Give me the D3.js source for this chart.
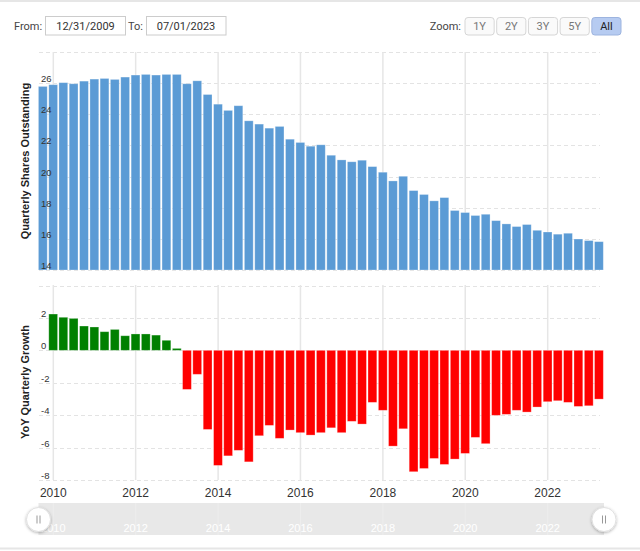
<meta charset="utf-8">
<script src="https://cdn.jsdelivr.net/npm/d3@7"></script>

<style>
  body { margin: 0; background-color: #ffffff; }
  .ui { font-family: Roboto, sans-serif; font-size: 11px; }
  .tick-lbl { font-family: "Liberation Sans", Arial, sans-serif; }
</style>

<div id="chart"></div>

<script>
// quarter end dates
var quarters = ["2009-09-30","2009-12-31","2010-03-31","2010-06-30","2010-09-30","2010-12-31",
  "2011-03-31","2011-06-30","2011-09-30","2011-12-31","2012-03-31","2012-06-30","2012-09-30","2012-12-31",
  "2013-03-31","2013-06-30","2013-09-30","2013-12-31","2014-03-31","2014-06-30","2014-09-30","2014-12-31",
  "2015-03-31","2015-06-30","2015-09-30","2015-12-31","2016-03-31","2016-06-30","2016-09-30","2016-12-31",
  "2017-03-31","2017-06-30","2017-09-30","2017-12-31","2018-03-31","2018-06-30","2018-09-30","2018-12-31",
  "2019-03-31","2019-06-30","2019-09-30","2019-12-31","2020-03-31","2020-06-30","2020-09-30","2020-12-31",
  "2021-03-31","2021-06-30","2021-09-30","2021-12-31","2022-03-31","2022-06-30","2022-09-30","2022-12-31",
  "2023-03-31"];

var shares = [25.79, 25.90, 26.03, 25.96, 26.13, 26.26, 26.30, 26.24, 26.39, 26.52,
  26.56, 26.52, 26.56, 26.56, 25.96, 26.15, 25.27, 24.65, 24.25, 24.55,
  23.58, 23.37, 23.11, 23.22, 22.40, 22.19, 21.95, 22.04, 21.37, 21.07,
  20.95, 21.05, 20.64, 20.28, 19.72, 20.02, 19.10, 18.85, 18.44, 18.65,
  17.82, 17.69, 17.50, 17.58, 17.17, 16.96, 16.79, 16.92, 16.55, 16.44,
  16.30, 16.36, 15.99, 15.89, 15.82];

// yoy growth starts with the second quarter
var growth = [2.24, 2.04, 1.97, 1.50, 1.44, 1.15, 1.29, 0.90, 1.01, 1.01, 0.94, 0.62, 0.12,
  -2.41, -1.48, -4.88, -7.10, -6.51, -6.17, -6.88, -5.27, -4.63, -5.43,
  -4.92, -5.08, -5.23, -5.08, -4.78, -5.08, -4.38, -4.55, -3.21, -3.70,
  -5.91, -4.84, -7.49, -7.29, -6.67, -7.04, -6.71, -6.36, -5.37, -5.76,
  -4.01, -3.95, -3.70, -3.81, -3.50, -3.17, -3.11, -3.21, -3.46, -3.42, -3.01];

var yearTicks = [2010, 2012, 2014, 2016, 2018, 2020, 2022];
var shareTicks = [14, 16, 18, 20, 22, 24, 26, 28];
var growthTicks = [-8, -6, -4, -2, 0, 2, 4];
var zoomButtons = ["1Y", "2Y", "3Y", "5Y", "All"];

var W = 640, H = 551;
var plotLeft = 39, plotRight = 600;

var svg = d3.select("#chart").append("svg")
    .attr("width", W)
    .attr("height", H);

var defs = svg.append("defs");
var f = defs.append("filter").attr("id", "shadow").attr("x", "-50%").attr("y", "-50%")
    .attr("width", "200%").attr("height", "200%");
f.append("feDropShadow").attr("dx", 0).attr("dy", 1).attr("stdDeviation", 1.5)
    .attr("flood-color", "#000").attr("flood-opacity", 0.3);

// frame lines
svg.append("rect").attr("x", 0).attr("y", 0).attr("width", W).attr("height", 2).attr("fill", "#e6e6e6");
svg.append("rect").attr("x", 0).attr("y", 547.5).attr("width", W).attr("height", 2).attr("fill", "#e6e6e6");

var parse = d3.utcParse("%Y-%m-%d");
var dates = quarters.map(parse);

var x = d3.scaleUtc()
    .domain([Date.UTC(2010, 0, 1), Date.UTC(2022, 0, 1)])
    .range([53.3, 547.7]);

var yTop = d3.scaleLinear().domain([14, 28]).range([270, 52]);
var yBot = d3.scaleLinear().domain([-8, 4]).range([480, 285.5]);

var barW = 8.8;

// --- grids ---
function hgrid(scale, ticks) {
  svg.append("g").selectAll("line")
    .data(ticks)
    .enter().append("line")
      .attr("x1", plotLeft).attr("x2", plotRight)
      .attr("y1", d => Math.round(scale(d)) + 0.5)
      .attr("y2", d => Math.round(scale(d)) + 0.5)
      .attr("stroke", "#e3e3e3")
      .attr("stroke-dasharray", "4,3");
}
hgrid(yTop, shareTicks);
hgrid(yBot, growthTicks);

function vgrid(y0, y1) {
  svg.append("g").selectAll("line")
    .data(yearTicks)
    .enter().append("line")
      .attr("x1", d => x(Date.UTC(d, 0, 1))).attr("x2", d => x(Date.UTC(d, 0, 1)))
      .attr("y1", y0).attr("y2", y1)
      .attr("stroke", "#e6e6e6")
      .attr("stroke-width", 1.5);
}
vgrid(52, 270);
vgrid(285, 480);

// --- bars ---
svg.append("g").selectAll("rect")
  .data(shares)
  .enter().append("rect")
    .attr("x", (d, i) => x(dates[i]) - barW / 2)
    .attr("y", d => yTop(d))
    .attr("width", barW)
    .attr("height", d => yTop(14) - yTop(d))
    .attr("fill", "#5b9bd5")
    .attr("stroke", "#ffffff")
    .attr("stroke-opacity", 0.35)
    .attr("stroke-width", 0.8);

svg.append("g").selectAll("rect")
  .data(growth)
  .enter().append("rect")
    .attr("x", (d, i) => x(dates[i + 1]) - barW / 2)
    .attr("y", d => yBot(Math.max(0, d)))
    .attr("width", barW)
    .attr("height", d => Math.abs(yBot(d) - yBot(0)))
    .attr("fill", d => d >= 0 ? "#008000" : "#ff0000")
    .attr("stroke", "#ffffff")
    .attr("stroke-opacity", 0.35)
    .attr("stroke-width", 0.8);

// --- y tick labels (inside plot, left) ---
function ylabels(scale, ticks) {
  svg.append("g").selectAll("text")
    .data(ticks)
    .enter().append("text")
      .attr("class", "tick-lbl")
      .attr("x", 41)
      .attr("y", d => scale(d) - 1)
      .attr("font-size", "9.5px")
      .attr("fill", "#333333")
      .text(d => d);
}
ylabels(yTop, shareTicks.slice(0, -1));
ylabels(yBot, growthTicks.slice(0, -1));

// axis titles
svg.append("text")
    .attr("transform", "translate(29.3,161) rotate(-90)")
    .attr("text-anchor", "middle")
    .attr("font-family", "Liberation Sans, Arial, sans-serif")
    .attr("font-weight", "bold")
    .attr("font-size", "11px")
    .attr("fill", "#222")
    .text("Quarterly Shares Outstanding");

svg.append("text")
    .attr("transform", "translate(29.3,382) rotate(-90)")
    .attr("text-anchor", "middle")
    .attr("font-family", "Liberation Sans, Arial, sans-serif")
    .attr("font-weight", "bold")
    .attr("font-size", "11px")
    .attr("fill", "#222")
    .text("YoY Quarterly Growth");

// x axis labels
svg.append("g").selectAll("text")
  .data(yearTicks)
  .enter().append("text")
    .attr("class", "tick-lbl")
    .attr("x", d => x(Date.UTC(d, 0, 1)))
    .attr("y", 497)
    .attr("text-anchor", "middle")
    .attr("font-size", "12px")
    .attr("fill", "#333333")
    .text(d => d);

// --- navigator ---
var nav = svg.append("g");
nav.append("rect")
    .attr("x", 38.5).attr("y", 503)
    .attr("width", 604 - 38.5).attr("height", 32)
    .attr("fill", "#e8e8e8");
nav.selectAll("line")
  .data(yearTicks)
  .enter().append("line")
    .attr("x1", d => x(Date.UTC(d, 0, 1))).attr("x2", d => x(Date.UTC(d, 0, 1)))
    .attr("y1", 503).attr("y2", 535)
    .attr("stroke", "#ededed");
nav.selectAll("text")
  .data(yearTicks)
  .enter().append("text")
    .attr("class", "tick-lbl")
    .attr("x", d => x(Date.UTC(d, 0, 1)))
    .attr("y", 532)
    .attr("text-anchor", "middle")
    .attr("font-size", "11px")
    .attr("fill", "#ffffff")
    .text(d => d);

[38.5, 604].forEach(function(cx) {
  var h = nav.append("g").attr("transform", "translate(" + cx + ",519.5)");
  h.append("circle").attr("r", 12).attr("fill", "#fff").attr("stroke", "#e0e0e0")
    .attr("filter", "url(#shadow)");
  h.append("line").attr("x1", -1.5).attr("x2", -1.5).attr("y1", -4).attr("y2", 4).attr("stroke", "#999");
  h.append("line").attr("x1", 1.5).attr("x2", 1.5).attr("y1", -4).attr("y2", 4).attr("stroke", "#999");
});

// --- range selector ---
var ui = svg.append("g").attr("class", "ui");
ui.append("text").attr("x", 14).attr("y", 29.5).attr("fill", "#444").text("From:");
ui.append("rect").attr("x", 45.5).attr("y", 16.5).attr("width", 80).attr("height", 18.5)
    .attr("fill", "#fff").attr("stroke", "#cccccc");
ui.append("text").attr("x", 85.5).attr("y", 29.5).attr("text-anchor", "middle").attr("fill", "#333").text("12/31/2009");
ui.append("text").attr("x", 128).attr("y", 29.5).attr("fill", "#444").text("To:");
ui.append("rect").attr("x", 146.5).attr("y", 16.5).attr("width", 79.5).attr("height", 18.5)
    .attr("fill", "#fff").attr("stroke", "#cccccc");
ui.append("text").attr("x", 186).attr("y", 29.5).attr("text-anchor", "middle").attr("fill", "#333").text("07/01/2023");

ui.append("text").attr("x", 461).attr("y", 29.5).attr("text-anchor", "end").attr("fill", "#444").text("Zoom:");

var btnX = d3.scaleBand().domain(zoomButtons).range([465, 621]).paddingInner(0.08);
var btn = ui.selectAll("g.btn")
  .data(zoomButtons)
  .enter().append("g")
    .attr("class", "btn")
    .attr("transform", d => "translate(" + btnX(d) + ",17.5)");
btn.append("rect")
    .attr("width", btnX.bandwidth()).attr("height", 17.5)
    .attr("rx", 3)
    .attr("fill", d => d === "All" ? "#b6cbf1" : "#fafafa")
    .attr("stroke", d => d === "All" ? "#9db4df" : "#d6d6d6");
btn.append("text")
    .attr("x", btnX.bandwidth() / 2).attr("y", 12.5)
    .attr("text-anchor", "middle")
    .attr("fill", d => d === "All" ? "#222" : "#777")
    .text(d => d);
</script>
